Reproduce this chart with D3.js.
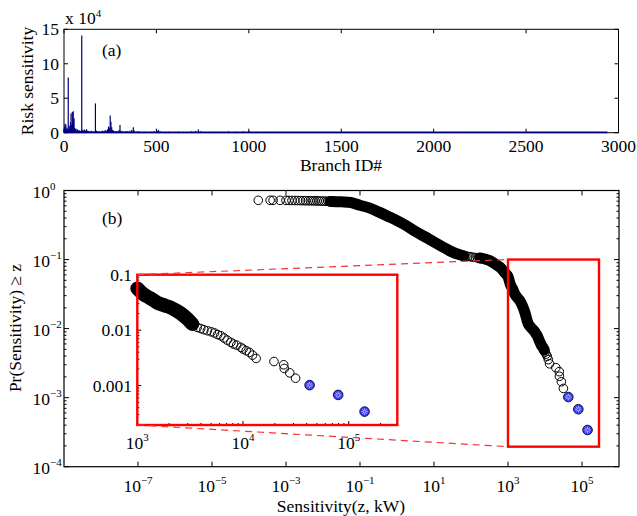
<!DOCTYPE html>
<html>
<head>
<meta charset="utf-8">
<script src="https://cdn.jsdelivr.net/npm/d3@7"></script>
<style>
  body { margin: 0; background: #fff; }
  svg text { font-family: "Liberation Serif", "DejaVu Serif", serif; font-size: 17.5px; fill: #000; }
</style>
</head>
<body>
<svg id="chart" width="637" height="516" font-family="Liberation Serif, DejaVu Serif, serif"></svg>
<script>
// ---------- data ----------
// (a) risk sensitivity per branch, in units of 10^4 (read off the spikes)
let branchIds = [2, 4, 6, 8, 10, 13, 16, 19, 23, 26, 29, 32, 35, 38, 41, 45, 47, 50, 52, 54, 57, 60, 64, 68, 72, 77, 82, 87, 91, 96,
  100, 105, 110, 116, 122, 128, 134, 141, 148, 155, 162, 170, 176, 184, 192, 200, 208, 216, 223, 230, 236, 241, 245, 250, 254, 258,
  263, 268, 275, 283, 292, 298, 303, 309, 318, 327, 336, 345, 356, 366, 375, 381, 392, 405, 420, 436, 452, 470, 488, 503, 511, 520,
  540, 565, 590, 620, 655, 690, 712, 727, 740, 770, 810, 850, 890, 930, 970, 1000, 1040, 1090, 1150, 1230, 1320, 1420, 1530, 1650,
  1780, 1900, 2050, 2200, 2380, 2550, 2720, 2880]
let riskValues = [0.5, 0.9, 1.3, 0.6, 1.2, 0.4, 0.7, 0.5, 8.0, 0.9, 0.5, 1.0, 1.5, 2.8, 1.1, 3.0, 1.4, 3.1, 1.9, 2.1, 0.7, 0.5, 0.6, 0.35, 0.5, 0.3, 0.4, 0.25, 0.3, 14.1,
  0.4, 0.3, 0.45, 0.3, 0.5, 0.3, 0.25, 0.2, 0.3, 0.15, 0.2, 4.25, 0.3, 0.2, 0.15, 0.2, 0.3, 0.25, 0.4, 0.3, 0.5, 0.9, 0.7, 2.5, 1.6, 0.8,
  0.4, 0.3, 0.2, 0.25, 0.2, 0.4, 1.1, 0.3, 0.2, 0.15, 0.25, 0.2, 0.3, 0.4, 0.8, 0.3, 0.15, 0.2, 0.1, 0.15, 0.1, 0.15, 0.2, 0.3, 0.4, 0.2,
  0.1, 0.15, 0.1, 0.15, 0.1, 0.2, 0.25, 0.45, 0.2, 0.1, 0.15, 0.1, 0.2, 0.15, 0.2, 0.25, 0.15, 0.1, 0.08, 0.06, 0.08, 0.05, 0.06, 0.05,
  0.06, 0.04, 0.05, 0.04, 0.05, 0.04, 0.05, 0.04]
let lastBranch = 2940
let branchTicks = [0, 500, 1000, 1500, 2000, 2500, 3000]
let riskTicks = [0, 5, 10, 15]

// (b) Pr(Sensitivity >= z), sensitivity in kW
let ccdfSens = [1.78e-4, 3.72e-4, 4.47e-4, 6.92e-4, 1.00e-3, 1.20e-3, 1.45e-3, 1.74e-3, 2.09e-3, 2.45e-3, 2.88e-3, 3.39e-3,
  3.98e-3, 4.57e-3, 5.25e-3, 6.03e-3, 6.92e-3, 7.94e-3, 9.12e-3, 1.05e-2, 1.20e-2, 1.38e-2, 1.58e-2, 3.16e-2, 5.62e-2,
  0.1, 0.178, 0.316, 0.562, 1, 1.78, 3.16, 5.62, 10, 17.8, 31.6, 50.1, 63.1, 72.4, 83.2, 95.5, 112, 132, 151, 174, 200,
  251, 316, 398, 501, 631, 741, 871, 1000, 1140, 1318, 1531, 1778, 2051, 2399, 2754, 3020, 3311, 3690, 3981, 4266, 4603,
  5012, 5370, 5754, 6166, 6607, 7079, 7674, 8128, 8710, 9550, 10000, 10715, 11482, 12303, 13305, 19634, 24266, 24547,
  27669, 31405]
let ccdfProb = [0.721, 0.721, 0.721, 0.720, 0.719, 0.718, 0.717, 0.716, 0.715, 0.714, 0.713, 0.712,
  0.711, 0.710, 0.709, 0.708, 0.707, 0.705, 0.703, 0.701, 0.699, 0.697, 0.695, 0.685, 0.67,
  0.61, 0.56, 0.49, 0.425, 0.367, 0.31, 0.255, 0.215, 0.18, 0.151, 0.128, 0.117, 0.113, 0.112, 0.111, 0.110, 0.108, 0.107, 0.106, 0.105, 0.104,
  0.101, 0.097, 0.090, 0.083, 0.076, 0.069, 0.062, 0.0565, 0.0446, 0.0380, 0.0316, 0.0282, 0.0257, 0.0219, 0.0182, 0.0155, 0.0129, 0.0112, 0.0107, 0.0102, 0.00977,
  0.00933, 0.00891, 0.00832, 0.00794, 0.00724, 0.00661, 0.00603, 0.00562, 0.00537, 0.00490, 0.00457, 0.00427, 0.00398, 0.00355, 0.00309, 0.00272, 0.00238, 0.00204,
  0.00170, 0.00136]
// the three most critical branches (blue markers)
let topSens = [42658, 79433, 141254]
let topProb = [0.00102, 0.00068, 0.00034]
// where the curve looks solid (overlapping markers)
let solidMain = [[1.58e-2, 63.1], [174, 9550]]
let solidInset = [[1000, 3311]]

let sensTickExp = [-7, -5, -3, -1, 1, 3, 5]
let insetTickExp = [3, 4, 5]
let insetProbTicks = [0.1, 0.01, 0.001]
let insetProbLabels = ['0.1', '0.01', '0.001']
// window blown up in the inset
let zoomSens = [1e3, 2.88e5]
let zoomProb = [1.95e-4, 0.1]

let svg = d3.select('#chart')
let navy = '#00007c'
let isPow = v => Math.abs(Math.log10(v) - Math.round(Math.log10(v))) < 1e-6

let line = (g, x1, y1, x2, y2) => g.append('line')
  .attr('x1', x1).attr('y1', y1).attr('x2', x2).attr('y2', y2)
  .attr('stroke', '#000').attr('stroke-width', 1)

let powLabel = (g, x, y, exp, anchor) => {
  let t = g.append('text').attr('x', x).attr('y', y).attr('text-anchor', anchor)
  t.append('tspan').text('10')
  t.append('tspan').attr('dy', -8).attr('font-size', 11).text(exp < 0 ? '\u2212' + (-exp) : exp)
  return t
}

//---------- panel (a) ----------
let xA = d3.scaleLinear().domain([0, 3000]).range([64, 618.5])
let yA = d3.scaleLinear().domain([0, 15]).range([132.7, 29.3])
let gA = svg.append('g')

gA.append('rect')
  .attr('x', xA(0)).attr('y', yA(15))
  .attr('width', xA(3000) - xA(0)).attr('height', yA(0) - yA(15))
  .attr('fill', 'none').attr('stroke', '#000')

branchTicks.forEach(t => {
  line(gA, xA(t), yA(0), xA(t), yA(0) - 4)
  line(gA, xA(t), yA(15), xA(t), yA(15) + 4)
  gA.append('text').attr('x', xA(t)).attr('y', 151.5).attr('text-anchor', 'middle').text(t)
})
riskTicks.forEach(t => {
  line(gA, xA(0), yA(t), xA(0) + 4, yA(t))
  line(gA, xA(3000), yA(t), xA(3000) - 4, yA(t))
  gA.append('text').attr('x', 59).attr('y', yA(t) + 6).attr('text-anchor', 'end').text(t)
})

// data: baseline and spikes
gA.append('line')
  .attr('x1', xA(1)).attr('x2', xA(lastBranch))
  .attr('y1', yA(0) - 0.3).attr('y2', yA(0) - 0.3)
  .attr('stroke', navy).attr('stroke-width', 1.6)
gA.selectAll('.stem')
  .data(d3.zip(branchIds, riskValues))
  .join('line')
  .attr('class', 'stem')
  .attr('x1', d => xA(d[0])).attr('x2', d => xA(d[0]))
  .attr('y1', yA(0)).attr('y2', d => yA(d[1]))
  .attr('stroke', navy).attr('stroke-width', 1.2)

let mult = gA.append('text').attr('x', 65).attr('y', 24).attr('font-size', 16)
mult.append('tspan').text('x 10')
mult.append('tspan').attr('dy', -7.5).attr('font-size', 11).text('4')
gA.append('text').attr('x', 102).attr('y', 56).text('(a)')
gA.append('text').attr('x', 341).attr('y', 170.5).attr('text-anchor', 'middle').attr('font-size', 17).text('Branch ID#')
gA.append('text').attr('transform', 'translate(33,81) rotate(-90)').attr('text-anchor', 'middle').text('Risk sensitivity')

//---------- panel (b) ----------
let xB = d3.scaleLog().domain([1e-9, 1e6]).range([64, 619])
let yB = d3.scaleLog().domain([1e-4, 1]).range([466.7, 190.5])
let gB = svg.append('g')

gB.append('rect')
  .attr('x', xB(1e-9)).attr('y', yB(1))
  .attr('width', xB(1e6) - xB(1e-9)).attr('height', yB(1e-4) - yB(1))
  .attr('fill', 'none').attr('stroke', '#000').attr('stroke-width', 1.2)

sensTickExp.forEach(e => {
  let x = xB(Math.pow(10, e))
  line(gB, x, yB(1e-4), x, yB(1e-4) - 5)
  line(gB, x, yB(1), x, yB(1) + 5)
  powLabel(gB, x, 491.5, e, 'middle')
})
yB.ticks().forEach(v => {
  let len = isPow(v) ? 5 : 2.5
  line(gB, xB(1e-9), yB(v), xB(1e-9) + len, yB(v))
  line(gB, xB(1e6), yB(v), xB(1e6) - len, yB(v))
  if (isPow(v)) powLabel(gB, 32.5, yB(v) + 7, Math.round(Math.log10(v)), 'start')
})

let pts = d3.zip(ccdfSens, ccdfProb)
let topPts = d3.zip(topSens, topProb)

let drawCurve = (g, xs, ys, solid, width, inside) => {
  let path = d3.line().x(d => xs(d[0])).y(d => ys(d[1])).curve(d3.curveMonotoneX)
  solid.forEach(r => {
    g.append('path')
      .datum(pts.filter(d => d[0] >= r[0] && d[0] <= r[1]))
      .attr('d', path)
      .attr('fill', 'none').attr('stroke', '#000')
      .attr('stroke-width', width).attr('stroke-linecap', 'round').attr('stroke-linejoin', 'round')
  })
  g.selectAll(null)
    .data(pts.filter(inside))
    .join('circle')
    .attr('cx', d => xs(d[0])).attr('cy', d => ys(d[1]))
    .attr('r', 4.3)
    .attr('fill', 'none').attr('stroke', '#000').attr('stroke-width', 1)
  topPts.forEach(d => {
    let m = g.append('g').attr('transform', `translate(${xs(d[0])},${ys(d[1])})`)
    m.append('circle').attr('r', 4.8).attr('fill', '#3a3aff').attr('stroke', '#15153a').attr('stroke-width', 1)
    d3.range(4).forEach(i => {
      let a = i * Math.PI / 4
      m.append('line')
        .attr('x1', -3.2 * Math.cos(a)).attr('y1', -3.2 * Math.sin(a))
        .attr('x2', 3.2 * Math.cos(a)).attr('y2', 3.2 * Math.sin(a))
        .attr('stroke', '#d6d6ff').attr('stroke-width', 0.8)
    })
    m.append('circle').attr('r', 1).attr('fill', '#3a3aff')
  })
}

drawCurve(gB, xB, yB, solidMain, 11, d => true)

// window in the main plot
gB.append('rect')
  .attr('x', xB(zoomSens[0])).attr('y', yB(zoomProb[1]))
  .attr('width', xB(zoomSens[1]) - xB(zoomSens[0])).attr('height', yB(zoomProb[0]) - yB(zoomProb[1]))
  .attr('fill', 'none').attr('stroke', '#ff0000').attr('stroke-width', 2.4)

// ---------- inset ----------
let xI = d3.scaleLog().domain(zoomSens).range([137.3, 397.3])
let yI = d3.scaleLog().domain(zoomProb).range([425, 274.7])
let gI = svg.append('g')

gI.append('rect')
  .attr('x', xI(zoomSens[0])).attr('y', yI(zoomProb[1]))
  .attr('width', xI(zoomSens[1]) - xI(zoomSens[0])).attr('height', yI(zoomProb[0]) - yI(zoomProb[1]))
  .attr('fill', '#fff')

xI.ticks().forEach(v => {
  let len = isPow(v) ? 4 : 2
  line(gI, xI(v), yI(zoomProb[0]), xI(v), yI(zoomProb[0]) - len)
})
yI.ticks().forEach(v => {
  let len = isPow(v) ? 4 : 2
  line(gI, xI(zoomSens[0]), yI(v), xI(zoomSens[0]) + len, yI(v))
})

drawCurve(gI, xI, yI, solidInset, 14, d => d[0] >= zoomSens[0] * 0.99)

gI.append('rect')
  .attr('x', xI(zoomSens[0])).attr('y', yI(zoomProb[1]))
  .attr('width', xI(zoomSens[1]) - xI(zoomSens[0])).attr('height', yI(zoomProb[0]) - yI(zoomProb[1]))
  .attr('fill', 'none').attr('stroke', '#ff0000').attr('stroke-width', 2.4)

insetTickExp.forEach(e => powLabel(gI, xI(Math.pow(10, e)), 448.5, e, 'middle'))
insetProbTicks.forEach((v, i) => {
  gI.append('text').attr('x', 132).attr('y', yI(v) + 6).attr('text-anchor', 'end').text(insetProbLabels[i])
})

// dashed connectors
;[zoomProb[1], zoomProb[0]].forEach(p => {
  svg.append('line')
    .attr('x1', xI(zoomSens[0])).attr('y1', yI(p))
    .attr('x2', xB(zoomSens[0])).attr('y2', yB(p))
    .attr('stroke', '#ff3030').attr('stroke-width', 1.2)
    .attr('stroke-dasharray', '7,5')
})

gB.append('text').attr('x', 102).attr('y', 224).text('(b)')
gB.append('text').attr('x', 341).attr('y', 512).attr('text-anchor', 'middle').text('Sensitivity(z, kW)')
gB.append('text').attr('transform', 'translate(21,328) rotate(-90)').attr('text-anchor', 'middle').text('Pr(Sensitivity) \u2265 z')
</script>
</body>
</html>
